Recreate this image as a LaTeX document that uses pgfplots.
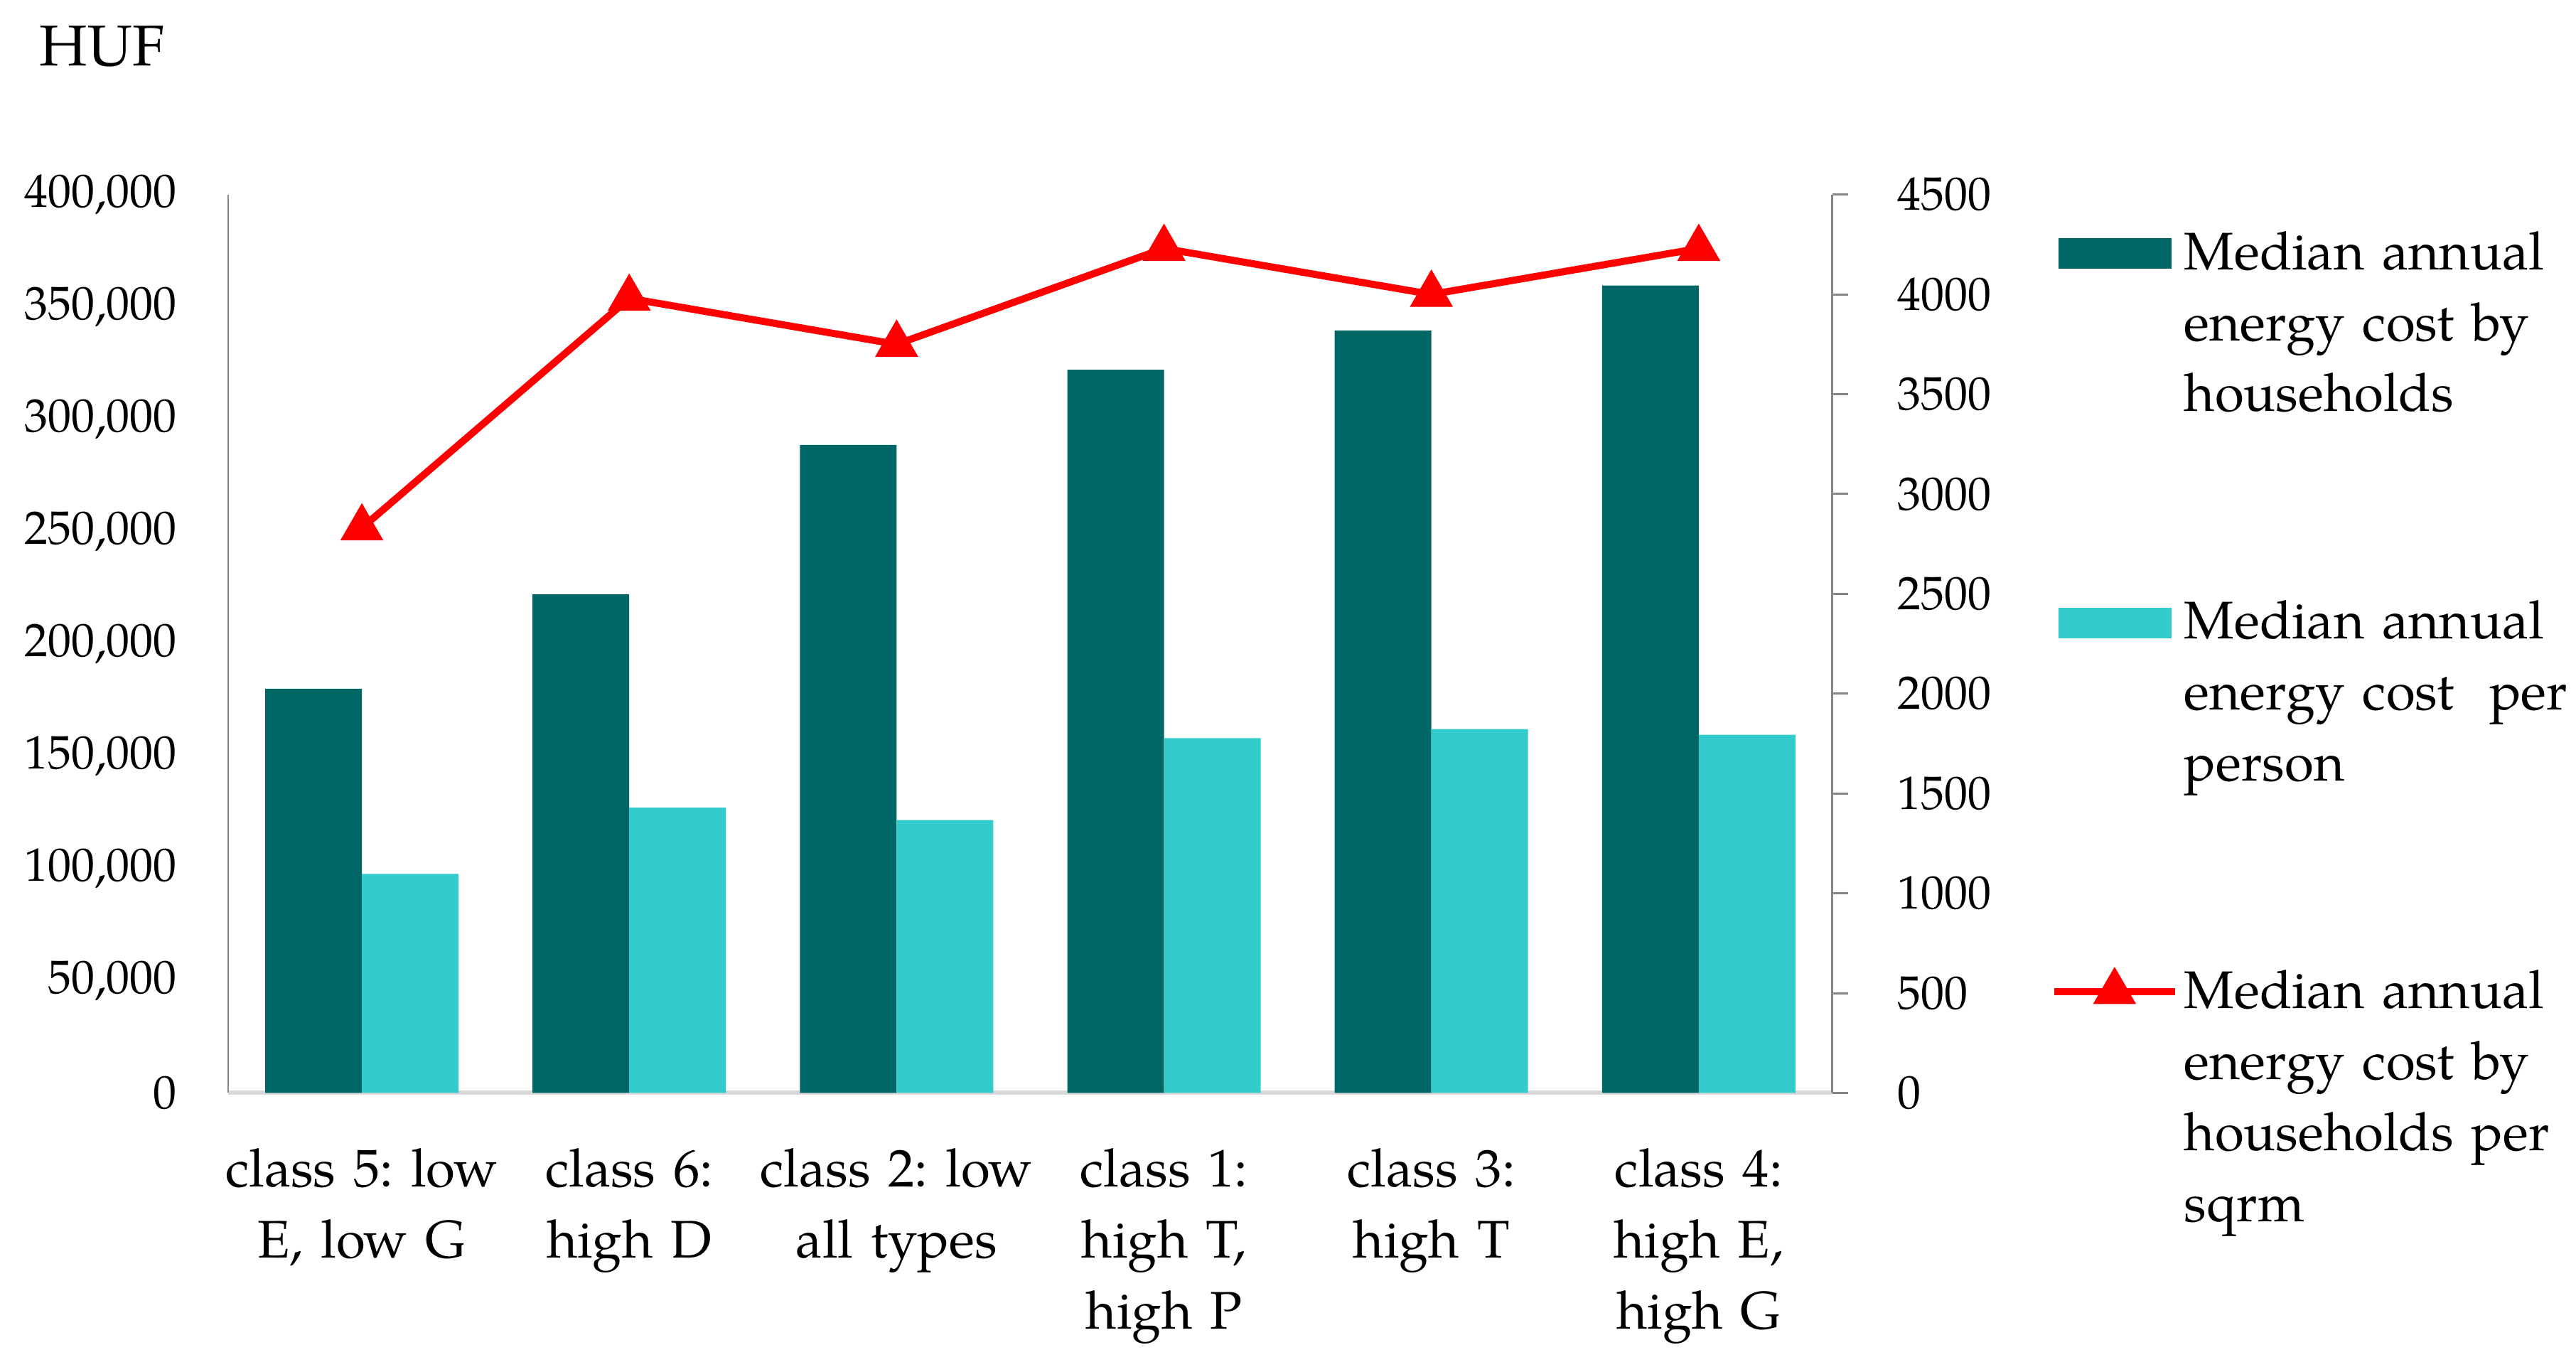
\documentclass[border=0pt]{standalone}
\usepackage{pgfplots}
\pgfplotsset{compat=1.18}
\usepackage{fontspec}
\setmainfont{TeX Gyre Pagella}
\frenchspacing
\definecolor{tealdark}{RGB}{0,102,102}
\definecolor{teallight}{RGB}{51,204,204}
\definecolor{axgray}{RGB}{134,134,134}
\definecolor{botgray}{RGB}{217,217,217}
\newcommand\lfont{\fontsize{7.45}{10}\selectfont\frenchspacing}
\newcommand\tfont{\fontsize{6.6}{8}\selectfont}
\pgfplotsset{
  barlegend/.style={legend image code/.code={\fill[##1] (0.6pt,0.1pt) rectangle (16.5pt,4.4pt); \path[draw=none,fill=none] (0pt,0pt) -- (18.3pt,0pt);}},
  linelegend/.style={legend image code/.code={\draw[##1, mark repeat=2, mark phase=2] plot coordinates {(0pt,2.4pt) (8.5pt,2.4pt) (17pt,2.4pt)}; \path[draw=none,fill=none] (0pt,0pt) -- (18.3pt,0pt);}},
}
\begin{document}
\begin{tikzpicture}
\begin{axis}[
  scale only axis, width=225.7pt, height=126.38pt,
  xmin=-0.5, xmax=5.5, ymin=0, ymax=400000,
  ybar=0pt, bar width=13.6pt,
  axis x line*=bottom, axis y line*=left,
  x axis line style={-, draw=botgray, line width=0.6pt},
  y axis line style={-, draw=axgray, line width=0.25pt},
  xtick={0,...,5},
  xticklabels={{class 5: low\\E, low G},{class 6:\\high D},{class 2: low\\all types},{class 1:\\high T,\\high P},{class 3:\\high T},{class 4:\\high E,\\high G}},
  xticklabel style={font=\lfont, text width=42pt, align=center, anchor=base, yshift=-13.25pt, inner sep=0pt},
  ytick distance=50000,
  scaled y ticks=false,
  major tick length=0pt,
  tick style={draw=none},
  yticklabel style={font=\tfont, anchor=east, inner sep=0pt, xshift=-7pt},
  /pgf/number format/fixed,
  /pgf/number format/1000 sep={,},
  /pgf/number format/assume math mode=true,
]
\addplot[fill=tealdark, draw=none] coordinates {(0,180000) (1,222000) (2,288500) (3,322000) (4,339500) (5,359500)};
\addplot[fill=teallight, draw=none] coordinates {(0,97500) (1,127000) (2,121500) (3,158000) (4,162000) (5,159500)};
\end{axis}
\begin{axis}[
  scale only axis, width=225.7pt, height=126.38pt,
  xmin=-0.5, xmax=5.5, ymin=0, ymax=4500,
  axis y line*=right, axis x line=none,
  y axis line style={-, draw=axgray, line width=0.3pt},
  xtick=\empty,
  ytick distance=500,
  tick align=outside, major tick length=2.2pt,
  ytick style={draw=axgray, line width=0.3pt},
  yticklabel style={font=\tfont, anchor=west, inner sep=0pt, xshift=6.8pt},
  /pgf/number format/1000 sep={},
  /pgf/number format/assume math mode=true,
  legend style={at={(1.1351,0.97365)}, anchor=north west, draw=none, fill=none,
    inner sep=0pt, inner xsep=0pt, inner ysep=0pt, row sep=22pt, column sep=0pt,
    font=\lfont, cells={anchor=base west},
    nodes={inner sep=0pt, text depth=, text width=60pt, align=left, anchor=base west}},
]
\addlegendimage{barlegend, fill=tealdark, draw=none}
\addlegendentry{\strut Median annual\\energy cost by\\households\strut}
\addlegendimage{barlegend, fill=teallight, draw=none}
\addlegendentry{\strut Median annual\\energy cost\ \ per\\person\strut}
\addplot[red, line width=1pt, mark=triangle*, mark size=3.1pt, mark options={solid, fill=red, line width=0.4pt}, linelegend] coordinates {(0,2830) (1,3980) (2,3750) (3,4230) (4,4000) (5,4230)};
\addlegendentry{\strut Median annual\\energy cost by\\households per\\sqrm\strut}
\end{axis}
\node[font=\fontsize{8.1}{10}\selectfont, anchor=base west, inner sep=0pt] at (-26.7pt,144.45pt) {HUF};
\pgfresetboundingbox
\path[use as bounding box] (-32.1pt,-38.55pt) rectangle (330.3pt,153.75pt);
\end{tikzpicture}
\end{document}
